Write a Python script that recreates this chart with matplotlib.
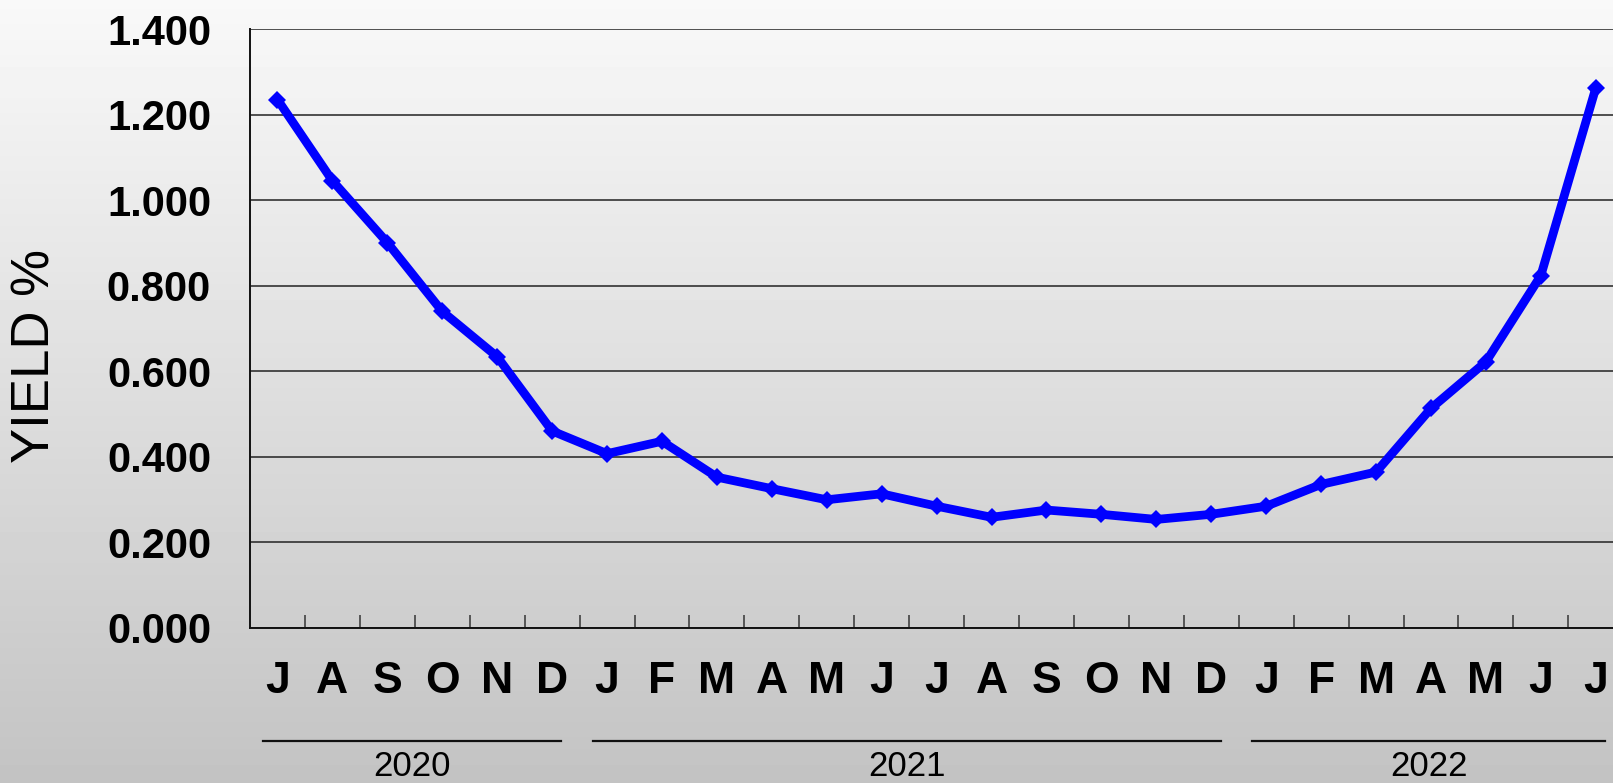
import numpy as np
import matplotlib
matplotlib.use("Agg")
import matplotlib.pyplot as plt
from matplotlib import font_manager
from matplotlib.transforms import offset_copy

# data
months = ["J", "A", "S", "O", "N", "D",
          "J", "F", "M", "A", "M", "J", "J", "A", "S", "O", "N", "D",
          "J", "F", "M", "A", "M", "J", "J"]
yields = [1.236, 1.046, 0.901, 0.740, 0.634, 0.460,
          0.407, 0.436, 0.352, 0.325, 0.299, 0.313, 0.284, 0.258, 0.275,
          0.265, 0.253, 0.265,
          0.284, 0.335, 0.364, 0.513, 0.622, 0.824, 1.263]
years = ["2020", "2021", "2022"]
months_per_year = [6, 12, 7]
y_ticks = [0.0, 0.2, 0.4, 0.6, 0.8, 1.0, 1.2, 1.4]

W, H = 1613, 783
installed = {f.name for f in font_manager.fontManager.ttflist}
narrow = "Liberation Sans Narrow" if "Liberation Sans Narrow" in installed else "Liberation Sans"
plt.rcParams["font.family"] = ["Liberation Sans", "DejaVu Sans"]

fig = plt.figure(figsize=(W / 100, H / 100), dpi=100)

# gradient background
bg = fig.add_axes([0, 0, 1, 1], zorder=0)
grad = np.linspace(0.975, 0.765, 256).reshape(-1, 1)
bg.imshow(grad, aspect="auto", cmap="gray", vmin=0, vmax=1,
          extent=[0, 1, 0, 1], origin="upper")
bg.set_axis_off()

# plot area: left edge at 250px, category width ~54.9px, runs past right edge
ax_left, ax_right = 250, 250 + 25 * 54.93
ax_top, ax_bot = 29.5, 627.5
ax = fig.add_axes([ax_left / W, 1 - ax_bot / H,
                   (ax_right - ax_left) / W, (ax_bot - ax_top) / H], zorder=1)
ax.set_facecolor("none")

x = np.arange(len(yields))
ax.plot(x, yields, color="#0000ff", lw=6.3, marker="D", ms=9.5,
        mew=0, solid_joinstyle="round", zorder=3)

ax.set_xlim(-0.5, len(yields) - 0.5)
ax.set_ylim(0, 1.4)
ax.set_yticks(y_ticks)
ax.set_yticklabels([f"{v:.3f}" for v in y_ticks], fontsize=30, fontweight="bold")
ax.tick_params(axis="y", length=0, pad=28)
ax.yaxis.grid(True, color="#222222", lw=1.1)
ax.set_axisbelow(True)

ax.set_xticks(x[:-1] + 0.5)
ax.set_xticklabels([])
ax.tick_params(axis="x", direction="in", length=9.4, width=1.4, color="#555555")

for side in ("top", "right"):
    ax.spines[side].set_visible(False)
for side in ("left", "bottom"):
    ax.spines[side].set_linewidth(1.4)
    ax.spines[side].set_color("#111111")

# rotated axis title, centred at ~(36, 356) px
fig.text(36 / W, 1 - 356 / H, "YIELD %", rotation=90, ha="center",
         va="center", fontsize=38)

# month letters under the axis
xt = ax.get_xaxis_transform()
month_tr = offset_copy(xt, fig=fig, y=-(693.3 - ax_bot), units="dots")
for i, m in enumerate(months):
    ax.text(i, 0, m, transform=month_tr, ha="center", va="baseline",
            fontsize=32, fontweight="bold", family=[narrow, "Liberation Sans"])

# year groups: rule + label
line_tr = offset_copy(xt, fig=fig, y=-(740.7 - ax_bot), units="dots")
year_tr = offset_copy(xt, fig=fig, y=-(776.5 - ax_bot), units="dots")
start = -0.5
for yr, n in zip(years, months_per_year):
    x0, x1 = start + 0.24, start + n - 0.33
    ax.plot([x0, x1], [0, 0], color="#111111", lw=1.6,
            transform=line_tr, clip_on=False)
    ax.text((x0 + x1) / 2, 0, yr, transform=year_tr, ha="center",
            va="baseline", fontsize=25)
    start += n

fig.savefig("out.png", dpi=100)
